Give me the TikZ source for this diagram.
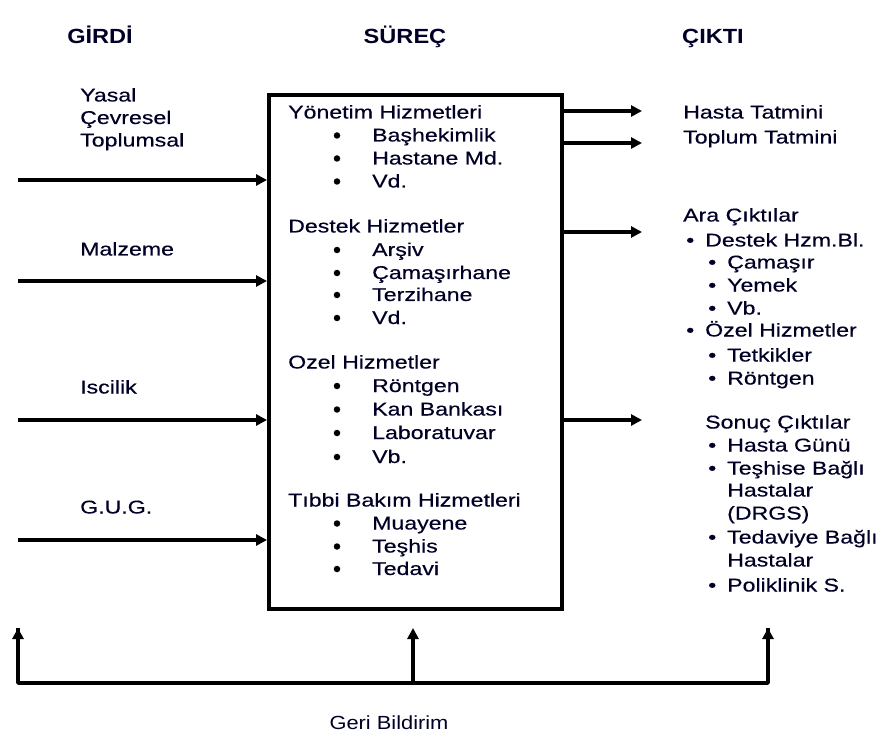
\documentclass[tikz,border=0pt]{standalone}
\usepackage{fontspec}
\setmainfont[FakeStretch=1.25,FakeBold=0.4]{Liberation Sans}
\newfontfamily\headfont[FakeStretch=1.15]{Liberation Sans}
\usetikzlibrary{arrows.meta}
\tikzset{
  txt/.style={anchor=base west, inner sep=0pt, font=\fontsize{18.5}{23}\selectfont, text=black!85!blue},
  head/.style={anchor=base, inner sep=0pt, font=\fontsize{20.5}{23}\headfont\bfseries, text=black!85!blue},
  bul/.style={circle, fill=black, draw=none, minimum size=6.5pt, inner sep=0pt},
  sbul/.style={txt},
  conn/.style={line width=3.6pt, -{Triangle[length=11pt,width=11pt]}},
  fb/.style={line width=3.6pt},
  procbox/.style={draw, line width=3.6pt, anchor=north west, minimum width=293pt, minimum height=514pt, inner sep=0pt}
}
\begin{document}
\begin{tikzpicture}[x=1pt,y=-1pt]
\useasboundingbox (0,0) rectangle (884,738);
% headings
\node[head] (hG) at (100,44) {GİRDİ};
\node[head] (hS) at (405,44) {SÜREÇ};
\node[head] (hC) at (713,44) {ÇIKTI};
% process box
\node[procbox] (box) at (267,93) {};
% left labels
\node[txt] (l1) at (80,101.5) {Yasal};
\node[txt] (l2) at (80,124) {Çevresel};
\node[txt] (l3) at (80,146.5) {Toplumsal};
\node[txt] (l4) at (80,255.5) {Malzeme};
\node[txt] (l5) at (80,393.5) {Iscilik};
\node[txt] (l6) at (80,513.5) {G.U.G.};
% input arrows
\coordinate (i1) at (18,180);
\coordinate (i2) at (18,281);
\coordinate (i3) at (18,420);
\coordinate (i4) at (18,540);
\draw[conn] (i1) -- (box.west |- i1);
\draw[conn] (i2) -- (box.west |- i2);
\draw[conn] (i3) -- (box.west |- i3);
\draw[conn] (i4) -- (box.west |- i4);
% box content
\node[txt] (y0) at (288,118.5) {Yönetim Hizmetleri};
\node[bul] (yb1) at (337,135.5) {}; \node[txt] (y1) at (372,141.5) {Başhekimlik};
\node[bul] (yb2) at (337,158.5) {}; \node[txt] (y2) at (372,164.5) {Hastane Md.};
\node[bul] (yb3) at (337,181.5) {}; \node[txt] (y3) at (372,187.5) {Vd.};
\node[txt] (d0) at (288,232.5) {Destek Hizmetler};
\node[bul] (db1) at (337,250) {}; \node[txt] (d1) at (372,256) {Arşiv};
\node[bul] (db2) at (337,273) {}; \node[txt] (d2) at (372,279) {Çamaşırhane};
\node[bul] (db3) at (337,295) {}; \node[txt] (d3) at (372,301) {Terzihane};
\node[bul] (db4) at (337,318) {}; \node[txt] (d4) at (372,324) {Vd.};
\node[txt] (o0) at (288,368.5) {Ozel Hizmetler};
\node[bul] (ob1) at (337,386) {}; \node[txt] (o1) at (372,392) {Röntgen};
\node[bul] (ob2) at (337,409.5) {}; \node[txt] (o2) at (372,415.5) {Kan Bankası};
\node[bul] (ob3) at (337,433) {}; \node[txt] (o3) at (372,439) {Laboratuvar};
\node[bul] (ob4) at (337,457) {}; \node[txt] (o4) at (372,463) {Vb.};
\node[txt] (t0) at (288,506.5) {Tıbbi Bakım Hizmetleri};
\node[bul] (tb1) at (337,523.5) {}; \node[txt] (t1) at (372,529.5) {Muayene};
\node[bul] (tb2) at (337,546.5) {}; \node[txt] (t2) at (372,552.5) {Teşhis};
\node[bul] (tb3) at (337,569) {}; \node[txt] (t3) at (372,575) {Tedavi};
% output arrows
\coordinate (e1) at (642,111);
\coordinate (e2) at (642,143);
\coordinate (e3) at (642,232);
\coordinate (e4) at (642,420);
\draw[conn] (box.east |- e1) -- (e1);
\draw[conn] (box.east |- e2) -- (e2);
\draw[conn] (box.east |- e3) -- (e3);
\draw[conn] (box.east |- e4) -- (e4);
% outputs
\node[txt] (c1) at (683,118.5) {Hasta Tatmini};
\node[txt] (c2) at (683,143.5) {Toplum Tatmini};
\node[txt] (a0) at (683,221.5) {Ara Çıktılar};
\node[sbul] (ab1) at (686,246.5) {•}; \node[txt] (a1) at (705,246.5) {Destek Hzm.Bl.};
\node[sbul] (ab2) at (708,268.5) {•}; \node[txt] (a2) at (727,268.5) {Çamaşır};
\node[sbul] (ab3) at (708,291.5) {•}; \node[txt] (a3) at (727,291.5) {Yemek};
\node[sbul] (ab4) at (708,314.5) {•}; \node[txt] (a4) at (727,314.5) {Vb.};
\node[sbul] (ab5) at (686,336.5) {•}; \node[txt] (a5) at (705,336.5) {Özel Hizmetler};
\node[sbul] (ab6) at (708,361.5) {•}; \node[txt] (a6) at (727,361.5) {Tetkikler};
\node[sbul] (ab7) at (708,384.5) {•}; \node[txt] (a7) at (727,384.5) {Röntgen};
\node[txt] (s0) at (705,428.5) {Sonuç Çıktılar};
\node[sbul] (sb1) at (708,451.5) {•}; \node[txt] (s1) at (727,451.5) {Hasta Günü};
\node[sbul] (sb2) at (708,474.5) {•}; \node[txt] (s2) at (727,474.5) {Teşhise Bağlı};
\node[txt] (s3) at (727,496.5) {Hastalar};
\node[txt] (s4) at (727,519.5) {(DRGS)};
\node[sbul] (sb5) at (708,543.5) {•}; \node[txt] (s5) at (727,543.5) {Tedaviye Bağlı};
\node[txt] (s6) at (727,566.5) {Hastalar};
\node[sbul] (sb7) at (708,591.5) {•}; \node[txt] (s7) at (727,591.5) {Poliklinik S.};
% feedback
\coordinate (f1) at (18,683);
\coordinate (f2) at (413,683);
\coordinate (f3) at (768,683);
\coordinate (u1) at (18,628);
\coordinate (u2) at (413,628);
\coordinate (u3) at (768,628);
\draw[fb, line join=round] (u1) -- (f1) -- (f3) -- (u3);
\draw[conn] (f1) -- (u1);
\draw[conn] (f2) -- (u2);
\draw[conn] (f3) -- (u3);
\node[txt, anchor=base, font=\fontsize{19}{22}\headfont] (gb) at (389,729) {Geri Bildirim};
\end{tikzpicture}
\end{document}
